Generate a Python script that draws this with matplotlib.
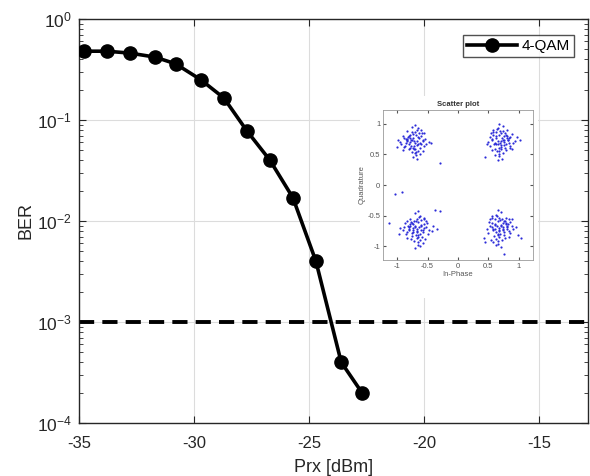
import matplotlib
matplotlib.use("Agg")
import matplotlib.pyplot as plt
from matplotlib.patches import Rectangle
from matplotlib.ticker import LogLocator, NullFormatter

plt.rcParams['font.family'] = ['Liberation Sans', 'DejaVu Sans']

# BER curve
prx_dbm = [-34.8, -33.8, -32.8, -31.7, -30.8, -29.7, -28.7, -27.7, -26.7, -25.7, -24.7, -23.6, -22.7]
ber = [0.48, 0.48, 0.46, 0.42, 0.36, 0.25, 0.165, 0.078, 0.040, 0.017, 0.004, 0.0004, 0.0002]
ber_limit = 1e-3
series_label = '4-QAM'

x_ticks = [-35, -30, -25, -20, -15]

# received constellation, one list per quadrant
const_tl = [(-0.72, 0.71), (-0.65, 0.78), (-0.80, 0.66), (-0.58, 0.74), (-0.91, 0.80), (-0.70, 0.59), (-0.76, 0.86),
            (-0.62, 0.69), (-0.84, 0.73), (-0.68, 0.90), (-0.55, 0.63), (-0.74, 0.76), (-0.88, 0.62), (-0.66, 0.55),
            (-0.79, 0.82), (-0.71, 0.68), (-0.60, 0.79), (-0.95, 0.70), (-0.69, 0.48), (-0.77, 0.73), (-0.52, 0.67),
            (-0.83, 0.88), (-0.73, 0.61), (-0.64, 0.84), (-0.86, 0.75), (-0.70, 0.52), (-0.57, 0.72), (-0.81, 0.58),
            (-0.75, 0.95), (-0.67, 0.65), (-0.98, 0.74), (-0.63, 0.60), (-0.78, 0.77), (-0.59, 0.85), (-0.72, 0.64),
            (-0.85, 0.69), (-0.69, 0.81), (-0.48, 0.70), (-0.74, 0.45), (-0.90, 0.57), (-0.66, 0.92), (-0.61, 0.66),
            (-0.82, 0.78), (-0.76, 0.53), (-0.71, 0.87), (-0.54, 0.75), (-0.87, 0.63), (-0.68, 0.71), (-0.79, 0.60),
            (-0.64, 0.76), (-0.73, 0.83), (-0.93, 0.67), (-0.58, 0.56), (-0.70, 0.98), (-0.84, 0.72), (-0.62, 0.50),
            (-0.77, 0.64), (-0.45, 0.68), (-0.81, 0.80), (-0.67, 0.42), (-0.75, 0.73), (-1.00, 0.62), (-0.60, 0.89),
            (-0.72, 0.58), (-0.88, 0.77), (-0.65, 0.66), (-0.56, 0.84), (-0.78, 0.70), (-0.69, 0.54), (-0.83, 0.75),
            (-0.30, 0.35)]
const_tr = [(0.70, 0.72), (0.63, 0.80), (0.78, 0.66), (0.56, 0.75), (0.88, 0.83), (0.68, 0.61), (0.74, 0.88),
            (0.60, 0.68), (0.82, 0.74), (0.66, 0.93), (0.52, 0.64), (0.72, 0.77), (0.86, 0.60), (0.64, 0.56),
            (0.77, 0.84), (0.69, 0.69), (0.58, 0.81), (0.93, 0.71), (0.67, 0.47), (0.75, 0.74), (0.50, 0.70),
            (0.81, 0.90), (0.71, 0.62), (0.62, 0.86), (0.84, 0.76), (0.68, 0.51), (0.55, 0.73), (0.79, 0.57),
            (0.73, 0.96), (0.65, 0.66), (0.97, 0.78), (0.61, 0.59), (0.76, 0.79), (0.57, 0.87), (0.70, 0.65),
            (0.83, 0.68), (0.67, 0.82), (0.45, 0.45), (0.72, 0.42), (0.89, 0.58), (0.64, 0.91), (0.59, 0.67),
            (0.80, 0.79), (0.74, 0.52), (0.69, 0.88), (0.53, 0.78), (0.85, 0.64), (0.66, 0.72), (0.77, 0.61),
            (0.62, 0.77), (0.71, 0.84), (0.91, 0.68), (0.56, 0.57), (0.68, 0.99), (0.82, 0.73), (0.60, 0.49),
            (0.75, 0.65), (0.48, 0.66), (0.79, 0.81), (0.65, 0.40), (0.73, 0.74), (1.02, 0.74), (0.58, 0.90),
            (0.70, 0.58), (0.86, 0.78), (0.63, 0.67), (0.54, 0.85), (0.76, 0.70), (0.67, 0.55), (0.81, 0.76)]
const_bl = [(-0.68, -0.72), (-0.61, -0.65), (-0.76, -0.78), (-0.55, -0.70), (-0.87, -0.62), (-0.66, -0.84),
            (-0.72, -0.58), (-0.58, -0.76), (-0.80, -0.69), (-0.64, -0.52), (-0.50, -0.80), (-0.70, -0.67),
            (-0.84, -0.86), (-0.62, -0.90), (-0.75, -0.61), (-0.67, -0.75), (-0.56, -0.63), (-0.91, -0.74),
            (-0.65, -0.98), (-0.73, -0.70), (-0.47, -0.73), (-0.79, -0.55), (-0.69, -0.82), (-0.60, -0.57),
            (-0.82, -0.66), (-0.66, -0.93), (-0.53, -0.68), (-0.77, -0.88), (-0.71, -0.46), (-0.63, -0.79),
            (-0.95, -0.70), (-0.59, -0.85), (-0.74, -0.64), (-0.55, -0.55), (-0.68, -0.77), (-0.81, -0.73),
            (-0.65, -0.60), (-0.43, -0.75), (-0.70, -1.03), (-0.86, -0.80), (-0.62, -0.50), (-0.57, -0.74),
            (-0.78, -0.63), (-0.72, -0.91), (-0.67, -0.56), (-0.51, -0.62), (-0.83, -0.77), (-0.64, -0.69),
            (-0.75, -0.83), (-0.60, -0.67), (-0.69, -0.59), (-0.89, -0.68), (-0.54, -0.88), (-0.66, -0.43),
            (-0.80, -0.71), (-0.58, -0.95), (-0.73, -0.76), (-0.41, -0.66), (-0.77, -0.60), (-0.63, -1.00),
            (-0.71, -0.69), (-0.97, -0.79), (-0.56, -0.53), (-0.68, -0.86), (-0.84, -0.58), (-0.61, -0.73),
            (-0.52, -0.58), (-0.74, -0.74), (-0.65, -0.81), (-0.79, -0.66), (-1.13, -0.62), (-1.04, -0.14),
            (-0.92, -0.12), (-0.29, -0.43), (-0.38, -0.41), (-0.35, -0.72)]
const_br = [(0.68, -0.70), (0.61, -0.63), (0.76, -0.76), (0.55, -0.68), (0.86, -0.60), (0.66, -0.82), (0.72, -0.56),
            (0.58, -0.74), (0.80, -0.67), (0.64, -0.50), (0.50, -0.78), (0.70, -0.65), (0.84, -0.84), (0.62, -0.88),
            (0.75, -0.59), (0.67, -0.73), (0.56, -0.61), (0.91, -0.72), (0.65, -0.96), (0.73, -0.68), (0.47, -0.71),
            (0.79, -0.53), (0.69, -0.80), (0.60, -0.55), (0.82, -0.64), (0.66, -0.91), (0.53, -0.66), (0.77, -0.86),
            (0.71, -0.44), (0.63, -0.77), (0.95, -0.68), (0.59, -0.83), (0.74, -0.62), (0.55, -0.53), (0.68, -0.75),
            (0.81, -0.71), (0.65, -0.58), (0.43, -0.86), (0.70, -1.01), (0.86, -0.78), (0.62, -0.48), (0.57, -0.72),
            (0.78, -0.61), (0.72, -0.89), (0.67, -0.54), (0.51, -0.60), (0.83, -0.75), (0.64, -0.67), (0.75, -0.81),
            (0.60, -0.65), (0.69, -0.57), (0.89, -0.66), (0.54, -0.90), (0.66, -0.41), (0.80, -0.69), (0.58, -0.93),
            (0.73, -0.74), (0.45, -0.92), (0.77, -0.58), (0.63, -0.98), (0.71, -0.67), (1.03, -0.86), (0.56, -0.51),
            (0.68, -0.84), (0.84, -0.56), (0.61, -0.71), (0.52, -0.56), (0.74, -0.72), (0.65, -0.79), (0.79, -0.64),
            (0.75, -1.13), (0.98, -0.82), (0.88, -0.55)]
iq_ticks = [-1, -0.5, 0, 0.5, 1]

text_col = '#262626'

fig = plt.figure(figsize=(5.9, 4.76), dpi=100)
ax = fig.add_axes([79 / 590, 1 - 423 / 476, 509 / 590, 404 / 476])

ax.semilogy(prx_dbm, ber, color='black', linewidth=2.6, marker='o', markersize=9.5, label=series_label, zorder=3)
ax.axhline(ber_limit, color='black', linewidth=2.8, linestyle=(0, (3.9, 2.1)), zorder=2)

ax.set_xlim(-35, -12.87)
ax.set_ylim(1e-4, 1)
ax.set_xticks(x_ticks)
ax.set_xticklabels([str(t) for t in x_ticks])
ax.yaxis.set_major_locator(LogLocator(base=10, numticks=10))
ax.yaxis.set_minor_locator(LogLocator(base=10, subs=range(2, 10), numticks=50))
ax.yaxis.set_minor_formatter(NullFormatter())
ax.grid(True, which='major', color='#dcdcdc', linewidth=0.8)
ax.tick_params(which='both', direction='in', top=True, right=True, colors=text_col)
ax.tick_params(which='major', length=5)
ax.tick_params(which='minor', length=3)
ax.tick_params(axis='x', labelsize=12, pad=9)
ax.tick_params(axis='y', labelsize=12.5, pad=5)
for s in ax.spines.values():
    s.set_color(text_col)
    s.set_linewidth(1.0)
ax.set_xlabel('Prx [dBm]', fontsize=13, color=text_col, labelpad=6)
ax.set_ylabel('BER', fontsize=13, color=text_col)
ax.yaxis.set_label_coords(-45 / 509, 0.5)

leg = ax.legend(loc='upper right', bbox_to_anchor=(0.9725, 0.960), borderaxespad=0, fontsize=11,
                frameon=True, fancybox=False, borderpad=0.25, handlelength=3.3, handletextpad=0.3)
leg.get_frame().set_edgecolor(text_col)
leg.get_frame().set_linewidth(1.0)

# white panel holding the constellation plot
fig.patches.append(Rectangle((360 / 590, 1 - 298 / 476), 178 / 590, 202 / 476,
                             transform=fig.transFigure, facecolor='white', edgecolor='none', zorder=5))

ins = fig.add_axes([383 / 590, 1 - 260 / 476, 150 / 590, 150 / 476], zorder=6)
for pts in (const_tl, const_tr, const_bl, const_br):
    ins.scatter([p[0] for p in pts], [p[1] for p in pts], s=2.5, color='#2b2bd8', linewidths=0)
ins.set_xlim(-1.23, 1.23)
ins.set_ylim(-1.22, 1.22)
ins.set_xticks(iq_ticks)
ins.set_yticks(iq_ticks)
ins.set_xticklabels([f'{t:g}' for t in iq_ticks])
ins.set_yticklabels([f'{t:g}' for t in iq_ticks])
ins.tick_params(labelsize=5.5, length=2, direction='in', colors='#555555', pad=2, top=True, right=True)
for s in ins.spines.values():
    s.set_color('#9a9a9a')
    s.set_linewidth(0.6)
ins.set_title('Scatter plot', fontsize=5.5, fontweight='bold', color='#333333', pad=3)
ins.set_xlabel('In-Phase', fontsize=5.5, color='#555555', labelpad=1)
ins.set_ylabel('Quadrature', fontsize=5.5, color='#555555', labelpad=1)

fig.savefig('out.png', dpi=100)
